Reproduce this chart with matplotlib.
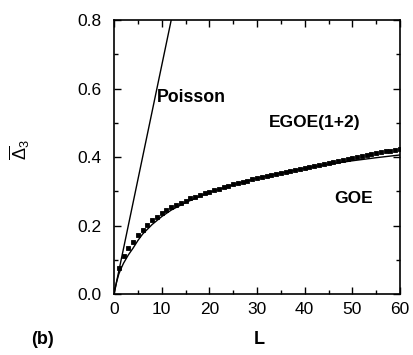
import matplotlib
matplotlib.use("Agg")
import matplotlib.pyplot as plt
from matplotlib.ticker import MultipleLocator, FuncFormatter

plt.rcParams['font.family'] = ['Liberation Sans', 'DejaVu Sans']
plt.rcParams['mathtext.fontset'] = 'custom'
plt.rcParams['mathtext.rm'] = 'Liberation Sans'
plt.rcParams['mathtext.it'] = 'Liberation Sans'

# Poisson straight line (L/15)
poisson_L = [0, 12]
poisson_val = [0.0, 0.8]

# GOE curve
goe_L = [0, 0.5, 1, 1.5, 2, 3, 4, 5, 6, 8, 10, 12, 15, 20, 25, 30, 35, 40, 45, 50, 55, 60]
goe_val = [0.0, 0.033, 0.058, 0.075, 0.090, 0.114, 0.134, 0.156, 0.175, 0.203, 0.226,
           0.245, 0.267, 0.297, 0.319, 0.338, 0.353, 0.367, 0.379, 0.389, 0.398, 0.406]

# EGOE(1+2) points
egoe_L = list(range(1, 61))
egoe_val = [0.075, 0.110, 0.133, 0.153, 0.172, 0.188, 0.202, 0.215, 0.226, 0.236,
            0.245, 0.253, 0.260, 0.267, 0.273, 0.279, 0.284, 0.290, 0.295, 0.299,
            0.304, 0.308, 0.312, 0.316, 0.320, 0.324, 0.328, 0.331, 0.335, 0.338,
            0.341, 0.344, 0.347, 0.350, 0.353, 0.356, 0.359, 0.362, 0.365, 0.368,
            0.371, 0.374, 0.377, 0.380, 0.383, 0.386, 0.389, 0.392, 0.395, 0.398,
            0.401, 0.404, 0.406, 0.409, 0.412, 0.414, 0.417, 0.419, 0.421, 0.424]

fig = plt.figure(figsize=(4.14, 3.55), dpi=100)
ax = fig.add_axes([0.2754, 0.1718, 0.6908, 0.7718])

ax.plot(poisson_L, poisson_val, color='black', lw=1.0)
ax.plot(goe_L, goe_val, color='black', lw=1.0)
ax.plot(egoe_L, egoe_val, linestyle='none', marker='s', ms=2.5, mew=0.6, color='black')

ax.set_xlim(0, 60)
ax.set_ylim(0, 0.8)
ax.xaxis.set_major_locator(MultipleLocator(10))
ax.xaxis.set_minor_locator(MultipleLocator(5))
ax.yaxis.set_major_locator(MultipleLocator(0.2))
ax.yaxis.set_minor_locator(MultipleLocator(0.1))
ax.xaxis.set_major_formatter(FuncFormatter(lambda v, p: f"{int(v)}"))
ax.yaxis.set_major_formatter(FuncFormatter(lambda v, p: f"{v:.1f}"))
ax.tick_params(which='both', direction='in', top=True, right=True, labelsize=12.5, width=1.0)
ax.tick_params(which='major', length=5)
ax.tick_params(axis='x', which='major', pad=6)
ax.tick_params(axis='y', which='major', pad=9)
ax.tick_params(which='minor', length=3)
for s in ax.spines.values():
    s.set_linewidth(1.2)

ax.text(9, 0.575, 'Poisson', fontsize=12.8, fontweight='bold', va='center', ha='left')
ax.text(32.5, 0.50, 'EGOE(1+2)', fontsize=12.5, fontweight='bold', va='center', ha='left')
ax.text(46.2, 0.28, 'GOE', fontsize=12.5, fontweight='bold', va='center', ha='left')

fig.text(259 / 414, 1 - 340 / 355, 'L', fontsize=13, fontweight='bold', ha='center', va='center')
fig.text(43 / 414, 1 - 340 / 355, '(b)', fontsize=13, fontweight='bold', ha='center', va='center')
fig.text(20 / 414, 1 - 150 / 355, r'$\overline{\Delta}_3$', fontsize=13, rotation=90,
         ha='center', va='center')

fig.savefig('out.png', dpi=100)
